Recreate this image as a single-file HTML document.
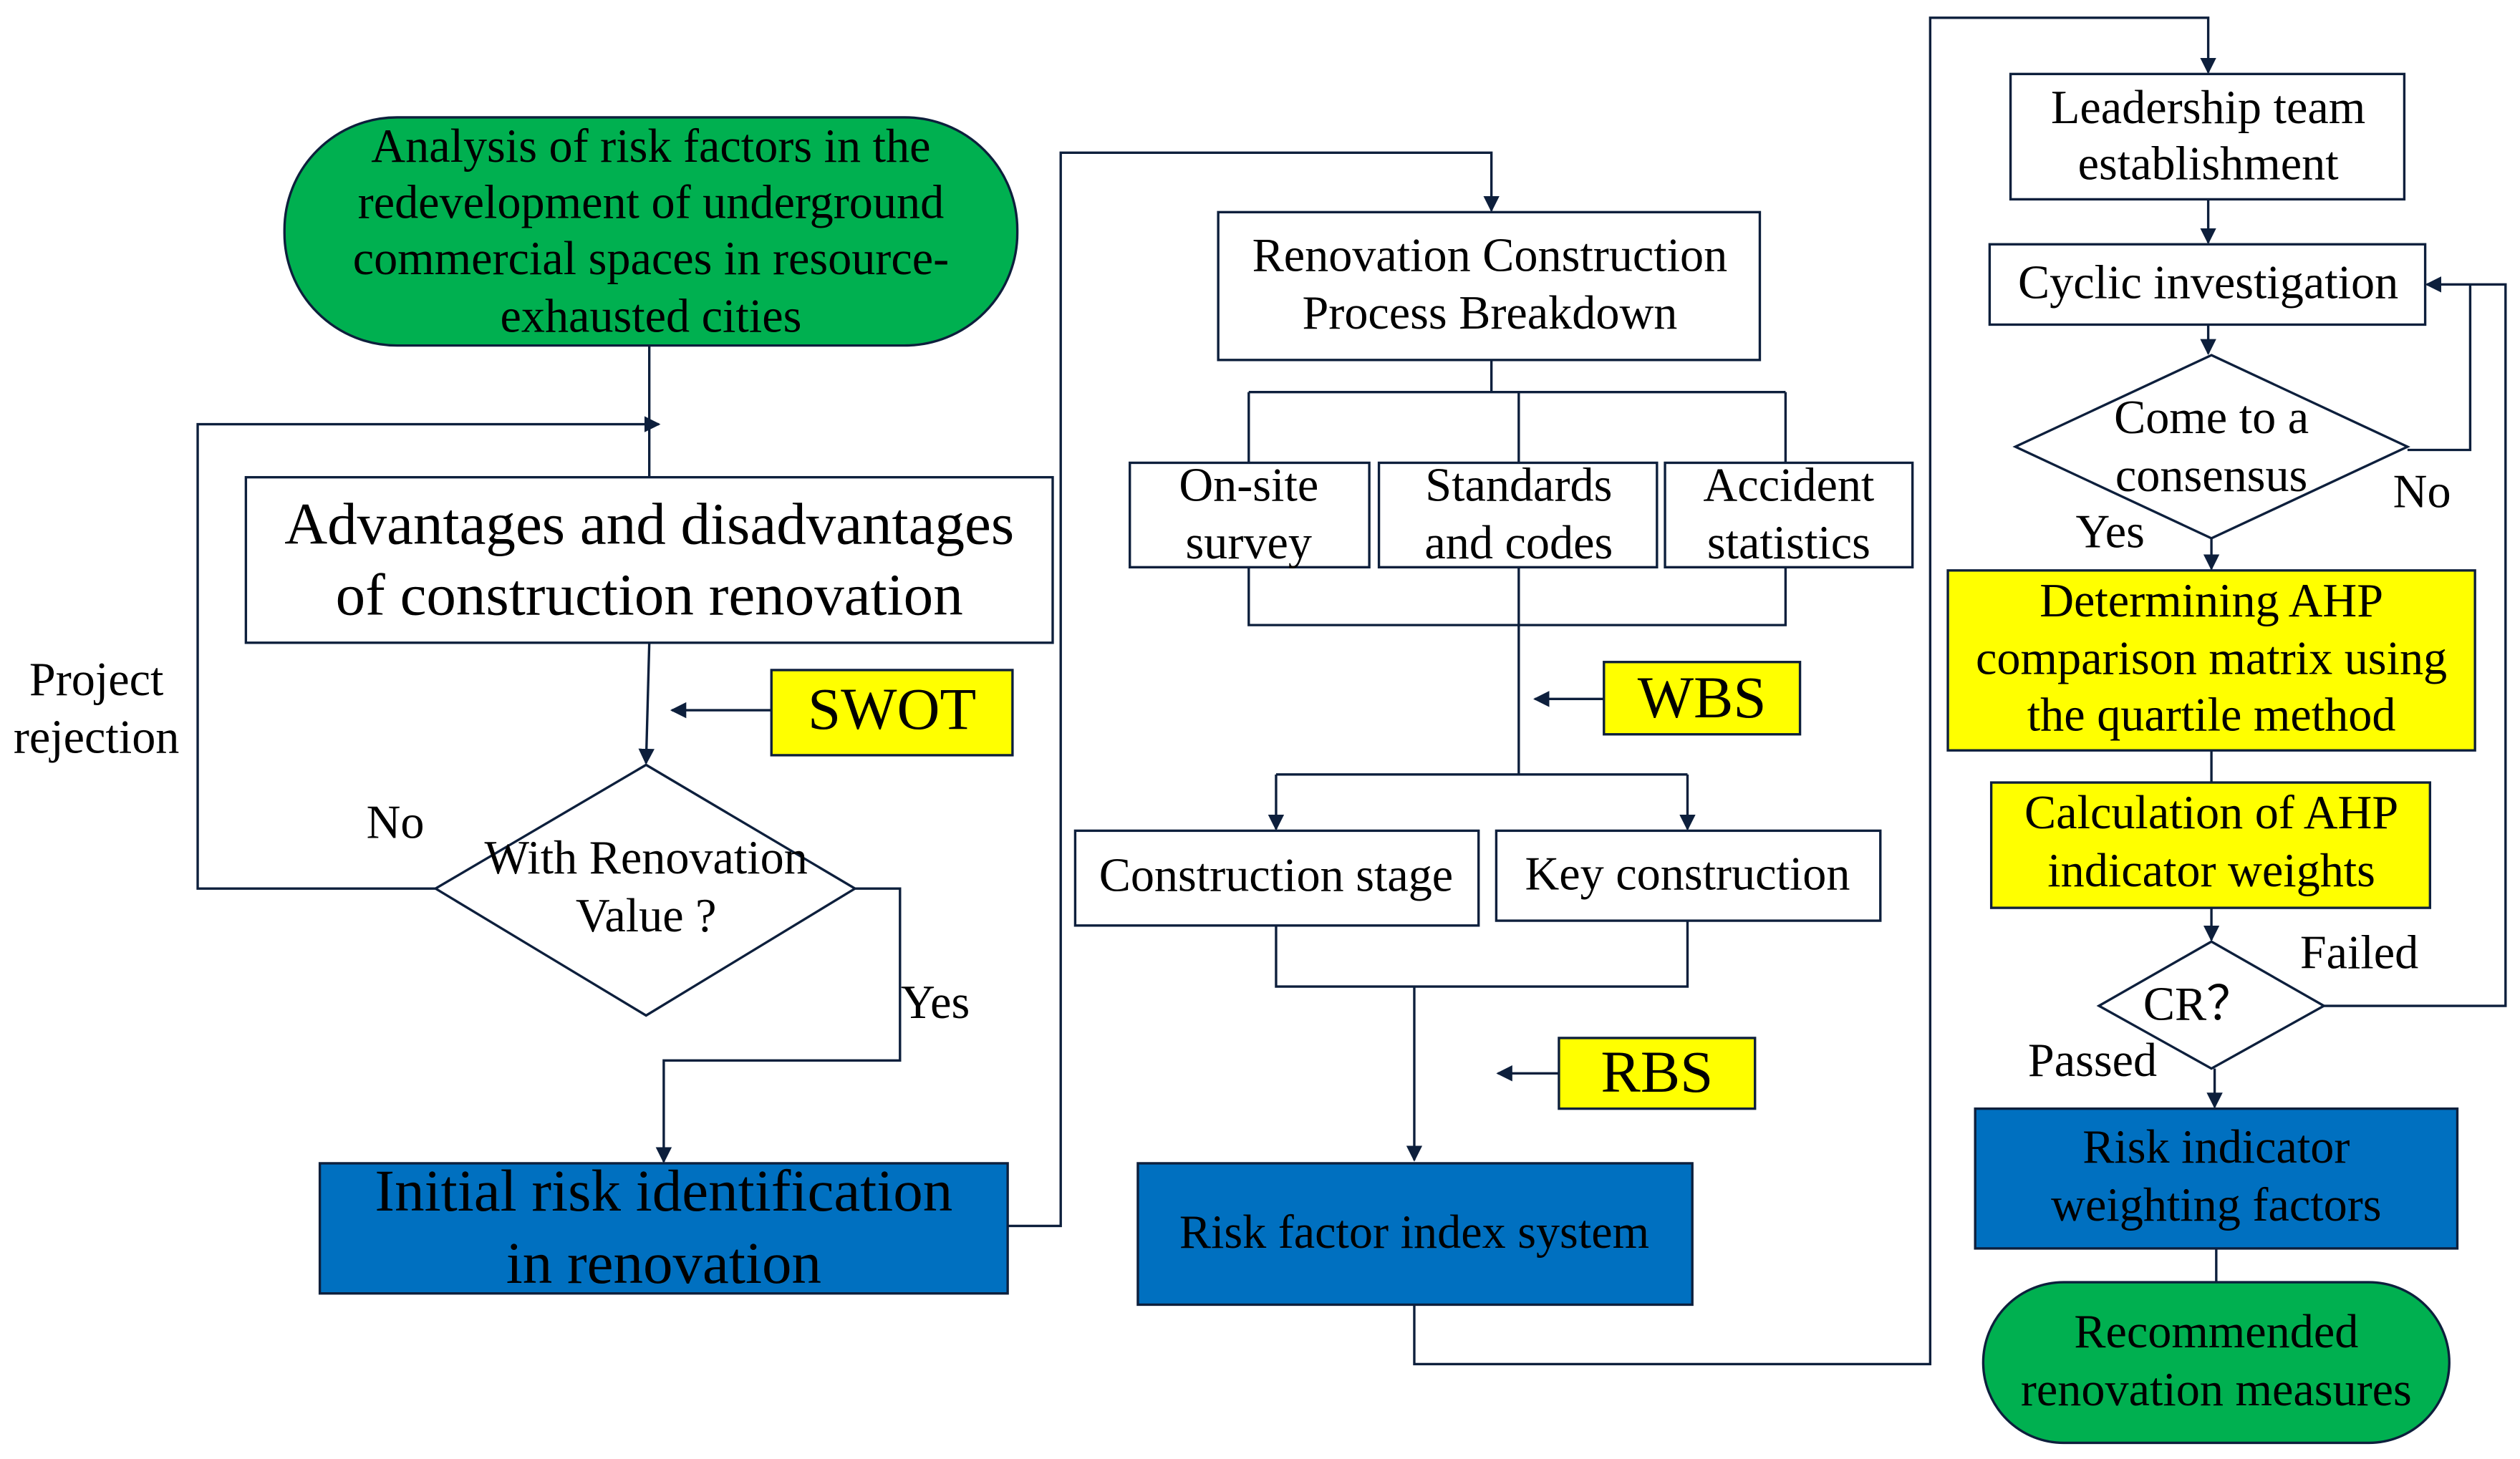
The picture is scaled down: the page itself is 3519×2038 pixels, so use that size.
<!DOCTYPE html>
<html><head><meta charset="utf-8"><style>
html,body{margin:0;padding:0;background:#fff;}
svg{display:block;}
text{font-family:"Liberation Serif",serif;fill:#000;text-anchor:middle;dominant-baseline:central;}
</style></head><body>
<svg width="3519" height="2038" viewBox="0 0 1568 908" xmlns="http://www.w3.org/2000/svg">
<defs><marker id="a" markerWidth="10" markerHeight="10" refX="9" refY="5" orient="auto" markerUnits="userSpaceOnUse"><path d="M0,0 L10,5 L0,10 z" fill="#0d1f3c"/></marker></defs>
<g stroke="#0d1f3c" stroke-width="1.5" fill="none">
<path d="M404,215 V297"/>
<path d="M271,553 H123 V264 H410" marker-end="url(#a)"/>
<path d="M404,400 L402,475" marker-end="url(#a)"/>
<path d="M480,442 H418" marker-end="url(#a)"/>
<path d="M532,553 H560 V660 H413 V723" marker-end="url(#a)"/>
<path d="M627,763 H660 V95 H928 V131" marker-end="url(#a)"/>
<path d="M928,224 V244 M777,244 H1111 M777,244 V288 M945,244 V288 M1111,244 V288"/>
<path d="M777,353 V389 H1111 V353 M945,353 V482 M794,482 H1050"/>
<path d="M794,482 V516" marker-end="url(#a)"/>
<path d="M1050,482 V516" marker-end="url(#a)"/>
<path d="M998,435 H955" marker-end="url(#a)"/>
<path d="M794,576 V614 H1050 V573 M880,614 V722" marker-end="url(#a)"/>
<path d="M970,668 H932" marker-end="url(#a)"/>
<path d="M880,812 V849 H1201 V11 H1374 V45" marker-end="url(#a)"/>
<path d="M1374,124 V151" marker-end="url(#a)"/>
<path d="M1374,202 V220" marker-end="url(#a)"/>
<path d="M1498,280 H1537 V177"/>
<path d="M1446,626 H1559 V177 H1510" marker-end="url(#a)"/>
<path d="M1376,335 V354" marker-end="url(#a)"/>
<path d="M1376,467 V487"/>
<path d="M1376,565 V585" marker-end="url(#a)"/>
<path d="M1378,665 V689" marker-end="url(#a)"/>
<path d="M1379,777 V798"/>
</g>
<g stroke="#0d1f3c" stroke-width="1.5">
<rect x="177" y="73" width="456" height="142" rx="70" fill="#00b050"/>
<rect x="153" y="297" width="502" height="103" fill="#fff"/>
<rect x="480" y="417" width="150" height="53" fill="#ffff00"/>
<polygon points="402,476 532,553 402,632 271,553" fill="#fff"/>
<rect x="199" y="724" width="428" height="81" fill="#0070c0"/>
<rect x="758" y="132" width="337" height="92" fill="#fff"/>
<rect x="703" y="288" width="149" height="65" fill="#fff"/>
<rect x="858" y="288" width="173" height="65" fill="#fff"/>
<rect x="1036" y="288" width="154" height="65" fill="#fff"/>
<rect x="998" y="412" width="122" height="45" fill="#ffff00"/>
<rect x="669" y="517" width="251" height="59" fill="#fff"/>
<rect x="931" y="517" width="239" height="56" fill="#fff"/>
<rect x="970" y="646" width="122" height="44" fill="#ffff00"/>
<rect x="708" y="724" width="345" height="88" fill="#0070c0"/>
<rect x="1251" y="46" width="245" height="78" fill="#fff"/>
<rect x="1238" y="152" width="271" height="50" fill="#fff"/>
<polygon points="1376,221 1498,278 1376,335 1254,278" fill="#fff"/>
<rect x="1212" y="355" width="328" height="112" fill="#ffff00"/>
<rect x="1239" y="487" width="273" height="78" fill="#ffff00"/>
<polygon points="1376,586 1446,626 1376,665 1306,626" fill="#fff"/>
<rect x="1229" y="690" width="300" height="87" fill="#0070c0"/>
<rect x="1234" y="798" width="290" height="100" rx="50" fill="#00b050"/>
</g>
<g font-size="29.5">
<text x="405" y="91">Analysis of risk factors in the</text>
<text x="405" y="126">redevelopment of underground</text>
<text x="405" y="161">commercial spaces in resource-</text>
<text x="405" y="197">exhausted cities</text>
<text x="404" y="326" font-size="37">Advantages and disadvantages</text>
<text x="404" y="370" font-size="37">of construction renovation</text>
<text x="555" y="441" font-size="37">SWOT</text>
<text x="402" y="534">With Renovation</text>
<text x="402" y="570">Value ?</text>
<text x="246" y="512">No</text>
<text x="60" y="423">Project</text>
<text x="60" y="459">rejection</text>
<text x="582" y="624">Yes</text>
<text x="413" y="741" font-size="37">Initial risk identification</text>
<text x="413" y="786" font-size="37">in renovation</text>
<text x="927" y="159">Renovation Construction</text>
<text x="927" y="195">Process Breakdown</text>
<text x="777" y="302">On-site</text>
<text x="777" y="338">survey</text>
<text x="945" y="302">Standards</text>
<text x="945" y="338">and codes</text>
<text x="1113" y="302">Accident</text>
<text x="1113" y="338">statistics</text>
<text x="1059" y="434" font-size="37">WBS</text>
<text x="794" y="545">Construction stage</text>
<text x="1050" y="544">Key construction</text>
<text x="1031" y="667" font-size="37">RBS</text>
<text x="880" y="767">Risk factor index system</text>
<text x="1374" y="67">Leadership team</text>
<text x="1374" y="102">establishment</text>
<text x="1374" y="176">Cyclic investigation</text>
<text x="1376" y="260">Come to a</text>
<text x="1376" y="296">consensus</text>
<text x="1507" y="306">No</text>
<text x="1313" y="331">Yes</text>
<text x="1376" y="374">Determining AHP</text>
<text x="1376" y="410">comparison matrix using</text>
<text x="1376" y="445">the quartile method</text>
<text x="1376" y="506">Calculation of AHP</text>
<text x="1376" y="542">indicator weights</text>
<text x="1368" y="625">CR？</text>
<text x="1468" y="593">Failed</text>
<text x="1302" y="660">Passed</text>
<text x="1379" y="714">Risk indicator</text>
<text x="1379" y="750">weighting factors</text>
<text x="1379" y="829">Recommended</text>
<text x="1379" y="865">renovation measures</text>
</g>
</svg>
</body></html>
